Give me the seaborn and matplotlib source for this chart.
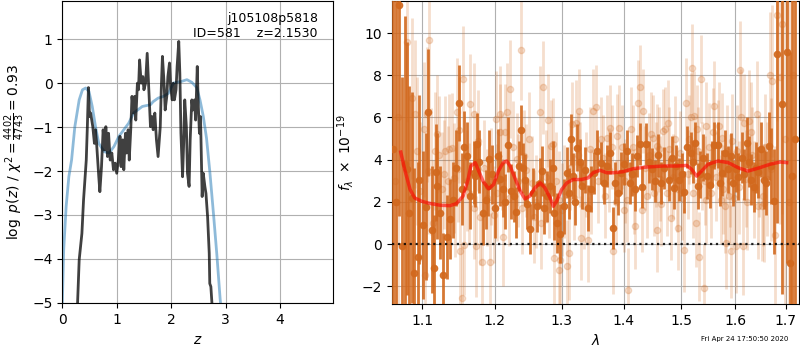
# redshift fit figure: p(z) on the left, spectrum + model on the right
import numpy as np
import matplotlib
matplotlib.use('Agg')
import matplotlib.pyplot as plt
import seaborn as sns
from matplotlib.ticker import NullLocator

# -------------------------------------
# p(z) curves
# -------------------------------------
pz_z = [0.27, 0.28, 0.31, 0.36, 0.39, 0.44, 0.46, 0.48, 0.50, 0.52, 0.56,
        0.59, 0.61, 0.63, 0.67, 0.69, 0.72, 0.75, 0.78, 0.80, 0.83,
        0.85, 0.88, 0.91, 0.94, 0.97, 1.00, 1.03, 1.06, 1.08, 1.11,
        1.13, 1.16, 1.18, 1.21, 1.23, 1.26, 1.28, 1.31, 1.33, 1.35,
        1.38, 1.40, 1.42, 1.45, 1.48, 1.50, 1.53, 1.56, 1.59, 1.62,
        1.65, 1.67, 1.70, 1.73, 1.76, 1.80, 1.82, 1.84, 1.87, 1.89,
        1.92, 1.94, 1.97, 1.99, 2.02, 2.04, 2.06, 2.09, 2.11, 2.14,
        2.16, 2.18, 2.21, 2.23, 2.25, 2.28, 2.30, 2.33, 2.35, 2.38,
        2.40, 2.43, 2.45, 2.48, 2.50, 2.52, 2.54, 2.57, 2.59, 2.62,
        2.64, 2.67, 2.70, 2.71, 2.73, 2.75, 2.76]
pz_logp = [-5.6, -5.01, -4.02, -3.42, -2.66, -1.75, -0.99, -0.10, -0.76, -0.68, -0.99,
           -1.37, -1.06, -1.37, -2.13, -2.47, -1.90, -1.06, -1.52, -0.99, -1.67,
           -1.14, -1.75, -1.59, -1.97, -1.82, -2.05, -1.75, -1.21, -1.90, -1.29,
           -1.97, -1.14, -1.59, -1.06, -1.75, -0.99, -0.30, -0.68, -0.30, -0.84,
           0.00, -0.15, 0.53, 0.00, 0.15, -0.15, 0.00, 0.68, -0.15, -0.99,
           -0.76, -1.06, -0.68, -1.29, -1.67, -0.99, -0.08, 0.61, 0.00, -0.61,
           -0.30, 0.15, 0.46, -0.08, -0.38, 0.00, -0.38, -0.15, 0.38, 0.95,
           0.23, -1.14, -2.13, -1.37, -0.38, -0.99, -2.05, -2.35, -1.29, -0.38,
           -0.61, -0.38, -0.84, 0.38, -0.53, -1.14, -0.76, -2.58, -2.05, -2.35,
           -2.51, -3.04, -3.87, -4.56, -4.63, -5.01, -5.6]

chi_z = [0.0, 0.025, 0.07, 0.12, 0.17, 0.23, 0.31, 0.37, 0.43, 0.49,
         0.55, 0.61, 0.67, 0.77, 0.86, 0.95, 1.04, 1.13, 1.22, 1.31,
         1.47, 1.62, 1.67, 1.76, 1.86, 1.95, 2.04, 2.10, 2.19, 2.29,
         2.38, 2.47, 2.53, 2.59, 2.65, 2.71, 2.78, 2.84, 2.90, 2.95]
chi_logp = [-5.0, -3.8, -2.81, -2.13, -1.75, -0.99, -0.38, -0.15, -0.11, -0.19,
            -0.53, -0.99, -1.37, -1.56, -1.59, -1.44, -1.21, -1.06, -0.91, -0.68,
            -0.53, -0.49, -0.42, -0.34, -0.30, -0.23, 0.00, 0.02, 0.04, 0.08,
            0.02, -0.10, -0.38, -0.75, -1.25, -2.00, -3.00, -3.90, -4.90, -5.60]

# -------------------------------------
# spectrum (wavelength in micron, flux in 1e-19)
# -------------------------------------
light_wave = [1.065, 1.068, 1.080, 1.087, 1.090, 1.093, 1.102, 1.104, 1.106, 1.107,
              1.109, 1.112, 1.117, 1.122, 1.129, 1.131, 1.136, 1.140, 1.142, 1.147,
              1.148, 1.151, 1.154, 1.155, 1.157, 1.165, 1.170, 1.171, 1.173, 1.179,
              1.181, 1.193, 1.194, 1.202, 1.203, 1.207, 1.208, 1.212, 1.215, 1.217,
              1.222, 1.232, 1.238, 1.240, 1.242, 1.258, 1.266, 1.268, 1.271, 1.279,
              1.283, 1.286, 1.288, 1.295, 1.296, 1.297, 1.300, 1.309, 1.311, 1.316,
              1.322, 1.325, 1.327, 1.329, 1.331, 1.335, 1.338, 1.341, 1.349, 1.354,
              1.363, 1.372, 1.378, 1.383, 1.389, 1.392, 1.400, 1.406, 1.407, 1.412,
              1.420, 1.425, 1.428, 1.431, 1.433, 1.447, 1.450, 1.455, 1.457, 1.458,
              1.460, 1.467, 1.471, 1.476, 1.482, 1.493, 1.494, 1.505, 1.508, 1.514,
              1.517, 1.519, 1.524, 1.527, 1.529, 1.533, 1.536, 1.538, 1.541, 1.545,
              1.546, 1.561, 1.568, 1.573, 1.576, 1.580, 1.583, 1.588, 1.592, 1.601,
              1.610, 1.612, 1.615, 1.618, 1.627, 1.630, 1.642, 1.644, 1.652, 1.656,
              1.668, 1.671, 1.673, 1.679, 1.682, 1.689, 1.692, 1.698, 1.706, 1.715,
              1.097, 1.114, 1.119, 1.126, 1.134, 1.144, 1.150, 1.160, 1.163, 1.176,
              1.185, 1.189, 1.198, 1.210, 1.220, 1.227, 1.234, 1.246, 1.250, 1.254,
              1.261, 1.276, 1.281, 1.291, 1.304, 1.313, 1.319, 1.344, 1.347, 1.358,
              1.366, 1.369, 1.375, 1.381, 1.387, 1.397, 1.403, 1.416, 1.418, 1.436,
              1.440, 1.444, 1.452, 1.463, 1.465, 1.474, 1.479, 1.486, 1.489, 1.498,
              1.502, 1.512, 1.522, 1.531, 1.543, 1.550, 1.554, 1.558, 1.564, 1.570,
              1.578, 1.585, 1.590, 1.595, 1.598, 1.604, 1.607, 1.621, 1.624, 1.633,
              1.637, 1.647, 1.654, 1.659, 1.663]
light_flux = [3.00, 6.00, 9.57, 6.90, 6.16, 4.40, 5.44, -1.46, 6.16, 3.46,
              9.67, 3.44, 4.41, 4.21, 3.30, 4.41, 4.52, 4.57, 3.14, 6.24,
              3.57, -0.35, -2.57, 7.83, -0.03, 6.62, 6.16, 1.71, -0.11, 1.29,
              -0.87, -0.83, 3.22, 5.92, 2.43, 5.29, 6.16, 0.33, 5.29, 6.27,
              7.35, 4.02, 9.22, 1.71, 4.17, 1.29, 6.24, 1.00, 7.43, 5.87,
              4.65, 4.73, -0.67, 2.11, -1.22, -0.75, 1.63, -1.06, -0.43, 5.68,
              5.76, 4.20, 6.32, 3.78, 0.29, 1.79, 3.30, 0.21, 6.32, 6.48,
              4.97, 5.05, 5.52, -0.35, 5.13, 5.52, 1.63, 2.11, -2.17, 5.44,
              0.84, 6.71, 7.43, 1.63, 6.32, 5.21, 5.05, 3.78, 4.65, 0.68,
              4.49, 5.37, 5.44, 5.76, 1.24, 2.59, 0.76, -0.27, 6.71, 4.97,
              6.00, 8.33, 6.08, 1.00, 5.44, -0.59, 7.83, 3.70, -2.10, 5.60,
              2.11, 6.56, 4.73, 2.11, 5.05, 1.79, 0.05, 2.27, -0.35, -0.11,
              8.25, 6.00, -0.11, 5.76, 5.84, 5.29, 6.16, 1.79, 1.79, 1.95,
              8.02, 3.54, 7.75, 0.44, 10.84, 7.94, 10.44, 5.00, 2.00, 8.00,
              2.5, 1.0, 5.2, 2.6, 3.0, 2.0, 5.4, 3.0, 2.4, 4.9,
              3.6, 2.2, 1.4, 3.9, 2.2, 4.6, 3.0, 3.5, 5.0, 2.9,
              2.0, 3.2, 2.5, 3.0, 2.5, 3.6, 2.2, 4.5, 2.5, 3.0,
              4.1, 2.3, 3.5, 4.6, 2.0, 4.6, 3.0, 4.6, 2.5, 3.6,
              2.3, 4.2, 2.4, 3.1, 1.9, 2.4, 4.5, 3.2, 5.0, 4.3,
              2.2, 3.3, 2.4, 4.4, 3.0, 4.6, 2.4, 5.3, 3.2, 5.6,
              2.6, 4.4, 3.0, 4.9, 2.2, 4.4, 2.7, 3.1, 2.0, 4.2,
              2.6, 3.7, 2.3, 4.6, 3.1]
light_err = [12.0, 10.0, 3.8, 3.8, 3.5, 3.5, 3.2, 3.2, 3.2, 3.0,
             3.2, 3.0, 2.8, 2.8, 2.6, 2.6, 2.6, 2.6, 2.6, 2.6,
             2.5, 2.5, 2.5, 2.5, 2.4, 2.4, 2.4, 2.4, 2.4, 2.3,
             2.3, 2.3, 2.3, 2.3, 2.3, 2.3, 2.3, 2.3, 2.3, 2.3,
             2.3, 2.2, 2.4, 2.2, 2.2, 2.2, 2.2, 2.2, 2.2, 2.2,
             2.2, 2.2, 2.3, 2.3, 2.3, 2.3, 2.2, 2.2, 2.2, 2.0,
             2.0, 2.0, 2.0, 2.0, 2.0, 2.0, 2.0, 2.0, 2.0, 2.0,
             2.0, 2.0, 2.0, 2.0, 2.0, 2.0, 2.0, 2.0, 2.0, 2.0,
             2.0, 2.0, 2.0, 2.0, 2.0, 2.0, 2.0, 2.0, 2.0, 2.0,
             2.0, 2.0, 2.0, 2.0, 2.0, 2.0, 2.0, 2.0, 2.1, 2.1,
             2.1, 2.1, 2.1, 2.1, 2.1, 2.1, 2.1, 2.1, 2.1, 2.1,
             2.1, 2.1, 2.1, 2.1, 2.1, 2.2, 2.2, 2.2, 2.2, 2.2,
             2.3, 2.3, 2.3, 2.3, 2.4, 2.4, 2.5, 2.5, 2.6, 2.8,
             3.0, 3.4, 3.6, 4.2, 5.0, 7.0, 9.0, 10.0, 12.0, 12.0,
             3.3, 3.0, 2.8, 2.7, 2.6, 2.6, 2.5, 2.4, 2.4, 2.4,
             2.3, 2.3, 2.3, 2.3, 2.3, 2.2, 2.2, 2.2, 2.2, 2.2,
             2.2, 2.2, 2.2, 2.3, 2.2, 2.0, 2.0, 2.0, 2.0, 2.0,
             2.0, 2.0, 2.0, 2.0, 2.0, 2.0, 2.0, 2.0, 2.0, 2.0,
             2.0, 2.0, 2.0, 2.0, 2.0, 2.0, 2.0, 2.0, 2.0, 2.0,
             2.0, 2.1, 2.1, 2.1, 2.1, 2.1, 2.1, 2.1, 2.1, 2.1,
             2.1, 2.2, 2.2, 2.2, 2.2, 2.2, 2.2, 2.3, 2.3, 2.3,
             2.3, 2.4, 2.4, 2.5, 2.7]

dark_wave = [1.062, 1.066, 1.070, 1.073, 1.077, 1.080, 1.083, 1.087, 1.089, 1.094,
             1.096, 1.1045, 1.108, 1.113, 1.116, 1.120, 1.123, 1.127, 1.133, 1.141,
             1.146, 1.149, 1.160, 1.170, 1.172, 1.174, 1.183, 1.190, 1.192, 1.200,
             1.204, 1.212, 1.219, 1.224, 1.228, 1.235, 1.238, 1.244, 1.251, 1.262,
             1.270, 1.277, 1.282, 1.288, 1.293, 1.303, 1.308, 1.314, 1.318, 1.324,
             1.332, 1.342, 1.351, 1.362, 1.373, 1.383, 1.386, 1.395, 1.400, 1.410,
             1.419, 1.423, 1.427, 1.438, 1.448, 1.454, 1.464, 1.478, 1.487, 1.496,
             1.505, 1.511, 1.517, 1.525, 1.530, 1.535, 1.547, 1.561, 1.567, 1.576,
             1.586, 1.592, 1.601, 1.614, 1.623, 1.631, 1.640, 1.650, 1.656, 1.666,
             1.676, 1.682, 1.692, 1.703, 1.709, 1.712, 1.720,
             1.101, 1.118, 1.137, 1.153, 1.156, 1.165, 1.178, 1.187, 1.196, 1.208,
             1.215, 1.231, 1.241, 1.247, 1.256, 1.266, 1.273, 1.286, 1.297, 1.311,
             1.321, 1.328, 1.337, 1.346, 1.356, 1.367, 1.378, 1.391, 1.405, 1.414,
             1.432, 1.443, 1.459, 1.470, 1.483, 1.491, 1.501, 1.521, 1.540, 1.552,
             1.556, 1.571, 1.581, 1.597, 1.606, 1.618, 1.627, 1.636, 1.645, 1.661,
             1.671]
dark_flux = [4.50, 2.00, 11.35, -0.08, 3.80, 3.57, 1.48, 2.19, -1.38, -0.59,
             3.06, 1.78, 6.24, 0.68, -1.14, 2.75, 1.48, -1.46, 0.33, 2.11,
             3.59, 6.67, 4.17, 3.38, 3.25, 4.73, 1.48, 2.75, 4.02, 1.71,
             4.17, 2.59, 4.70, 2.51, 2.27, 3.70, 5.41, 3.06, 0.71, 1.79,
             3.46, 2.27, 2.75, 1.48, 1.00, 1.79, 3.38, 4.97, 3.22, 4.57,
             2.75, 1.71, 3.38, 3.86, 3.70, 0.76, 2.90, 3.38, 3.78, 2.90,
             2.59, 4.17, 4.73, 4.73, 3.54, 2.98, 2.90, 3.06, 2.67, 3.06,
             2.46, 4.60, 4.33, 4.78, 2.75, 3.30, 3.22, 4.68, 4.70, 3.38,
             3.54, 4.17, 3.57, 4.10, 4.81, 3.06, 3.62, 4.49, 3.06, 4.65,
             2.03, 9.02, 6.63, 9.10, -0.90, 3.22, 5.00,
             0.9, 3.4, 1.2, 2.6, 4.6, 2.3, 3.9, 2.1, 3.3, 3.1,
             2.0, 1.5, 3.6, 1.9, 2.4, 2.9, 1.7, 3.6, 0.5, 2.4,
             2.0, 3.9, 3.5, 2.6, 4.4, 2.9, 4.3, 2.4, 4.4, 3.3,
             2.7, 3.9, 4.2, 3.6, 4.1, 3.7, 3.3, 3.9, 4.1, 2.8,
             3.8, 2.9, 4.3, 2.9, 3.2, 3.3, 3.9, 2.7, 3.4, 2.9,
             3.7]
dark_err = [12.0, 12.0, 10.0, 8.0, 7.0, 6.0, 6.0, 5.0, 5.0, 4.5,
            4.0, 3.5, 3.0, 3.0, 2.5, 2.5, 2.2, 2.0, 2.0, 1.8,
            1.8, 1.8, 1.6, 1.5, 1.5, 1.5, 1.5, 1.4, 1.4, 1.4,
            1.3, 1.3, 1.3, 1.3, 1.2, 1.2, 1.2, 1.2, 1.2, 1.2,
            1.2, 1.2, 1.3, 1.3, 1.4, 1.3, 1.2, 1.2, 1.1, 1.1,
            1.1, 1.1, 1.0, 1.0, 1.0, 1.0, 1.0, 1.0, 1.0, 1.0,
            1.0, 1.0, 1.0, 1.0, 1.0, 1.0, 1.0, 1.0, 1.0, 1.0,
            1.0, 1.0, 1.0, 1.0, 1.1, 1.1, 1.1, 1.1, 1.1, 1.1,
            1.1, 1.1, 1.1, 1.2, 1.2, 1.2, 1.2, 1.3, 1.4, 1.6,
            2.5, 8.0, 9.0, 10.0, 10.0, 10.0, 12.0,
            3.5, 2.3, 1.9, 1.7, 1.7, 1.6, 1.5, 1.4, 1.4, 1.3,
            1.3, 1.2, 1.2, 1.2, 1.2, 1.2, 1.2, 1.3, 1.4, 1.2,
            1.1, 1.1, 1.1, 1.1, 1.0, 1.0, 1.0, 1.0, 1.0, 1.0,
            1.0, 1.0, 1.0, 1.0, 1.0, 1.0, 1.0, 1.0, 1.1, 1.1,
            1.1, 1.1, 1.1, 1.1, 1.1, 1.2, 1.2, 1.2, 1.2, 1.5,
            1.8]

model_wave = [1.072, 1.077, 1.084, 1.090, 1.099, 1.111, 1.124, 1.137, 1.146, 1.155,
              1.162, 1.166, 1.172, 1.176, 1.183, 1.191, 1.198, 1.205, 1.212, 1.217,
              1.222, 1.229, 1.237, 1.244, 1.251, 1.259, 1.267, 1.274, 1.282, 1.287,
              1.292, 1.300, 1.308, 1.318, 1.331, 1.342, 1.350, 1.361, 1.372, 1.383,
              1.399, 1.416, 1.439, 1.468, 1.492, 1.510, 1.519, 1.528, 1.537, 1.549,
              1.568, 1.587, 1.606, 1.625, 1.648, 1.668, 1.689, 1.702]
model_flux = [4.36, 3.54, 2.59, 2.19, 2.03, 1.92, 1.84, 1.82, 1.92, 2.27,
              3.06, 3.70, 3.86, 3.54, 2.98, 2.62, 2.82, 3.46, 3.86, 3.94,
              3.70, 3.14, 2.51, 2.14, 2.27, 2.67, 2.90, 2.67, 2.19, 1.79,
              2.03, 2.59, 2.90, 3.06, 3.06, 3.14, 3.38, 3.50, 3.38, 3.38,
              3.43, 3.57, 3.65, 3.70, 3.70, 3.73, 3.54, 3.22, 3.46, 3.78,
              3.94, 3.86, 3.62, 3.46, 3.62, 3.78, 3.89, 3.86]

wave_ticks = [1.1, 1.2, 1.3, 1.4, 1.5, 1.6, 1.7]
label_text = 'j105108p5818\nID=581    z=2.1530'
stamp = 'Fri Apr 24 17:50:50 2020'

orange = '#d2691e'

# -------------------------------------
# Figure
# -------------------------------------
fig = plt.figure(figsize=(8, 3.5), dpi=100)
ax1 = fig.add_axes([0.0779, 0.1334, 0.3387, 0.8637])
ax2 = fig.add_axes([0.4896, 0.1314, 0.5095, 0.8657])

# left: p(z)
sns.lineplot(x=chi_z, y=chi_logp, ax=ax1, color='tab:blue', alpha=0.5,
             lw=2, estimator=None, sort=False)
sns.lineplot(x=pz_z, y=pz_logp, ax=ax1, color='k', alpha=0.75,
             lw=2, estimator=None, sort=False)
ax1.set_xlim(0, 4.98)
ax1.set_ylim(-5.01, 1.87)
ax1.set_xticks([0, 1, 2, 3, 4])
ax1.set_yticks([-5, -4, -3, -2, -1, 0, 1])
ax1.grid(True)
ax1.set_xlabel(r'$z$')
ax1.set_ylabel(r'$\log\ p(z)$ / $\chi^2=\frac{4402}{4743}=0.93$')
ax1.text(0.943, 0.963, label_text, ha='right', va='top', multialignment='right',
         transform=ax1.transAxes, fontsize=9)

# right: spectrum
ax2.errorbar(light_wave, light_flux, yerr=light_err, fmt='o', color=orange,
             alpha=0.22, ms=4.5, elinewidth=2.0, capsize=0, zorder=2)
ax2.errorbar(dark_wave, dark_flux, yerr=dark_err, fmt='o', color=orange,
             alpha=0.9, ms=4.5, elinewidth=2.0, capsize=0, zorder=3)
sns.lineplot(x=model_wave, y=model_flux, ax=ax2, color='red', alpha=0.6,
             lw=2.5, estimator=None, sort=False, zorder=4)
ax2.axhline(0, color='k', ls=':', lw=1.6, alpha=0.85, zorder=5)

ax2.set_xscale('log')
ax2.set_xlim(1.0604, 1.728)
ax2.set_ylim(-2.84, 11.52)
ax2.set_xticks(wave_ticks)
ax2.set_xticklabels([f'{w:.1f}' for w in wave_ticks])
ax2.xaxis.set_minor_locator(NullLocator())
ax2.set_yticks([-2, 0, 2, 4, 6, 8, 10])
ax2.grid(True)
ax2.set_xlabel(r'$\lambda$')
ax2.set_ylabel(r'$f_\lambda\ \times\ 10^{-19}$')

fig.text(0.985, 0.022, stamp, ha='right', va='bottom', fontsize=5)

plt.savefig('out.png', dpi=100)
